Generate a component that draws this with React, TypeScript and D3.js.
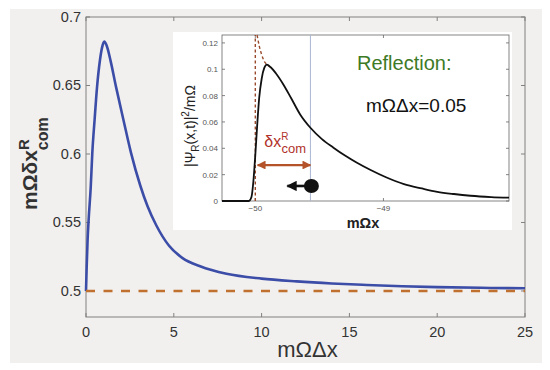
import * as React from 'react';
import * as d3 from 'd3';

// main curve: mΩδx^R_com vs mΩΔx
const mainX = [0, 0.04, 0.09, 0.15, 0.27, 0.36, 0.49, 0.63, 0.8, 0.92, 1.04, 1.18, 1.4, 1.71, 2.13, 2.56, 3.09, 3.5, 4.0, 4.73, 5.5, 6.5, 8, 10, 12, 14, 16, 18, 20, 22.5, 25];
const mainY = [0.5, 0.518, 0.537, 0.552, 0.576, 0.601, 0.625, 0.649, 0.669, 0.678, 0.682, 0.679, 0.668, 0.649, 0.625, 0.601, 0.577, 0.562, 0.548, 0.533, 0.524, 0.518, 0.5125, 0.509, 0.507, 0.5055, 0.5044, 0.5035, 0.5028, 0.5023, 0.502];
const refX = [0, 25];
const refY = [0.5, 0.5];
const mainXTicks = [0, 5, 10, 15, 20, 25];
const mainYTicks = [0.5, 0.55, 0.6, 0.65, 0.7];
const mainYLabels = ['0.5', '0.55', '0.6', '0.65', '0.7'];

// inset: |Ψ_R(x,t)|²/mΩ vs mΩx
const insetX = [-50.26, -50.05, -50.03, -50.015, -50.0, -49.985, -49.97, -49.95, -49.93, -49.91, -49.88, -49.84, -49.78, -49.72, -49.65, -49.57, -49.48, -49.39, -49.3, -49.21, -49.1, -48.98, -48.84, -48.7, -48.58, -48.45, -48.32, -48.16, -48.02];
const insetY = [0, 0, 0.003, 0.015, 0.035, 0.058, 0.078, 0.093, 0.101, 0.1035, 0.1015, 0.097, 0.0883, 0.078, 0.0657, 0.0556, 0.047, 0.0405, 0.0345, 0.0292, 0.0235, 0.018, 0.0128, 0.0095, 0.007, 0.0053, 0.004, 0.003, 0.0025];
const classX = [-49.986, -49.97, -49.95, -49.93, -49.91, -49.88];
const classY = [0.126, 0.118, 0.111, 0.106, 0.1036, 0.1016];
const wallX = [-50.0, -50.0];
const wallY = [0, 0.126];
const comX = -49.57;
const insetXTicks = [-50, -49];
const insetXLabels = ['−50', '−49'];
const insetYTicks = [0, 0.02, 0.04, 0.06, 0.08, 0.1, 0.12];
const insetYLabels = ['0', '0.02', '0.04', '0.06', '0.08', '0.1', '0.12'];

const font = 'Liberation Sans, Arial, sans-serif';

const App = () => {
  const x = d3.scaleLinear().domain([0, 25]).range([86, 525]);
  const y = d3.scaleLinear().domain([0.481, 0.7]).range([317, 17]);
  const ix = d3.scaleLinear().domain([-50.26, -48.02]).range([222, 509]);
  const iy = d3.scaleLinear().domain([0, 0.126]).range([201, 35]);

  const mainLine = d3
    .line<number>()
    .x((d, i) => x(mainX[i]))
    .y(d => y(d))
    .curve(d3.curveMonotoneX);
  const refLine = d3.line<number>().x((d, i) => x(refX[i])).y(d => y(d));
  const insetLine = d3
    .line<number>()
    .x((d, i) => ix(insetX[i]))
    .y(d => iy(d))
    .curve(d3.curveMonotoneX);
  const classLine = d3
    .line<number>()
    .x((d, i) => ix(classX[i]))
    .y(d => iy(d))
    .curve(d3.curveMonotoneX);
  const wallLine = d3.line<number>().x((d, i) => ix(wallX[i])).y(d => iy(d));

  const [x0, x1] = x.range();
  const [y0, y1] = y.range();
  const [ix0, ix1] = ix.range();
  const [iy0, iy1] = iy.range();

  const arrowY = iy(0.0273);
  const dotY = iy(0.0114);

  return (
    <svg
      width={550}
      height={370}
      style={{ position: 'absolute', left: 0, top: 0, background: '#fff' }}
      fontFamily={font}
    >
      <defs>
        <marker id="hb" viewBox="0 0 10 10" refX="9" refY="5" markerWidth="4" markerHeight="4" orient="auto-start-reverse">
          <path d="M0,0 L10,5 L0,10 z" fill="#b4532a" />
        </marker>
        <marker id="hk" viewBox="0 0 10 10" refX="9" refY="5" markerWidth="4" markerHeight="4" orient="auto">
          <path d="M0,0 L10,5 L0,10 z" fill="#111" />
        </marker>
      </defs>
      <rect x={10} y={9} width={532} height={354} fill="#f2f0ee" />

      {/* main axes frame and ticks */}
      <rect x={x0} y={y1} width={x1 - x0} height={y0 - y1} fill="none" stroke="#808080" strokeWidth={1} />
      {mainXTicks.map(t => (
        <g key={'xt' + t}>
          <line x1={x(t)} x2={x(t)} y1={y0} y2={y0 - 4} stroke="#808080" />
          <line x1={x(t)} x2={x(t)} y1={y1} y2={y1 + 4} stroke="#808080" />
          <text x={x(t)} y={337} textAnchor="middle" fontSize={14.5} fill="#333">
            {t}
          </text>
        </g>
      ))}
      {mainYTicks.map((t, i) => (
        <g key={'yt' + t}>
          <line x1={x0} x2={x0 + 4} y1={y(t)} y2={y(t)} stroke="#808080" />
          <line x1={x1} x2={x1 - 4} y1={y(t)} y2={y(t)} stroke="#808080" />
          <text x={81} y={y(t) + 5} textAnchor="end" fontSize={14.5} fill="#333">
            {mainYLabels[i]}
          </text>
        </g>
      ))}

      <path d={mainLine(mainY) || ''} fill="none" stroke="#3c4da8" strokeWidth={2.6} />
      <path d={refLine(refY) || ''} fill="none" stroke="#c0702f" strokeWidth={2.4} strokeDasharray="9 8.5" />

      <text x={(x0 + x1) / 2 + 2} y={357} textAnchor="middle" fontSize={22} fill="#333">
        mΩΔx
      </text>
      <text transform="translate(37,210) rotate(-90)" fontSize={21} fontWeight="bold" fill="#333">
        mΩδx
        <tspan fontSize={15} dy={-8}>R</tspan>
        <tspan fontSize={16} dx={-11} dy={19}>com</tspan>
      </text>

      {/* inset */}
      <rect x={173} y={32} width={339} height={198} fill="#fff" />
      <rect x={ix0} y={iy1} width={ix1 - ix0} height={iy0 - iy1} fill="none" stroke="#666" strokeWidth={0.8} />
      {insetXTicks.map((t, i) => (
        <g key={'ixt' + t}>
          <line x1={ix(t)} x2={ix(t)} y1={iy0} y2={iy0 - 3} stroke="#666" strokeWidth={0.8} />
          <line x1={ix(t)} x2={ix(t)} y1={iy1} y2={iy1 + 3} stroke="#666" strokeWidth={0.8} />
          <text x={ix(t)} y={iy0 + 10} textAnchor="middle" fontSize={8} fill="#555">
            {insetXLabels[i]}
          </text>
        </g>
      ))}
      {insetYTicks.map((t, i) => (
        <g key={'iyt' + t}>
          <line x1={ix0} x2={ix0 + 3} y1={iy(t)} y2={iy(t)} stroke="#666" strokeWidth={0.8} />
          <line x1={ix1} x2={ix1 - 3} y1={iy(t)} y2={iy(t)} stroke="#666" strokeWidth={0.8} />
          <text x={218} y={iy(t) + 3} textAnchor="end" fontSize={8} fill="#555">
            {insetYLabels[i]}
          </text>
        </g>
      ))}

      <line x1={ix(comX)} x2={ix(comX)} y1={iy0} y2={iy1} stroke="#a9b6d4" strokeWidth={1} />
      <path d={wallLine(wallY) || ''} fill="none" stroke="#9a4a2c" strokeWidth={1.4} strokeDasharray="3 2.5" />
      <path d={classLine(classY) || ''} fill="none" stroke="#9a4a2c" strokeWidth={1.4} strokeDasharray="3 2.5" />
      <path d={insetLine(insetY) || ''} fill="none" stroke="#111" strokeWidth={1.8} />

      <line
        x1={ix(-49.982)}
        x2={ix(comX)}
        y1={arrowY}
        y2={arrowY}
        stroke="#b4532a"
        strokeWidth={2.2}
        markerStart="url(#hb)"
        markerEnd="url(#hb)"
      />
      <text x={ix(-49.93)} y={147} fontSize={16} fill="#b0322a">
        δx
        <tspan fontSize={10} dy={-7}>R</tspan>
        <tspan fontSize={13} dx={-7} dy={13}>com</tspan>
      </text>
      <line x1={ix(comX) - 4} x2={ix(-49.75)} y1={dotY} y2={dotY} stroke="#111" strokeWidth={2.6} markerEnd="url(#hk)" />
      <ellipse cx={ix(comX) + 1} cy={dotY} rx={7.5} ry={7} fill="#111" />

      <text x={363} y={228} textAnchor="middle" fontSize={14.5} fontWeight="bold" fill="#222">
        mΩx
      </text>
      <text transform="translate(195,167) rotate(-90)" fontSize={14} fill="#222">
        |Ψ
        <tspan fontSize={10} dy={4}>R</tspan>
        <tspan dy={-4}>(x,t)|</tspan>
        <tspan fontSize={10} dy={-6}>2</tspan>
        <tspan dy={6}>/mΩ</tspan>
      </text>

      <text x={357} y={70} fontSize={20} fill="#3d7a26">
        Reflection:
      </text>
      <text x={366} y={112} fontSize={19} fill="#111">
        mΩΔx=0.05
      </text>
    </svg>
  );
};

export default App;
